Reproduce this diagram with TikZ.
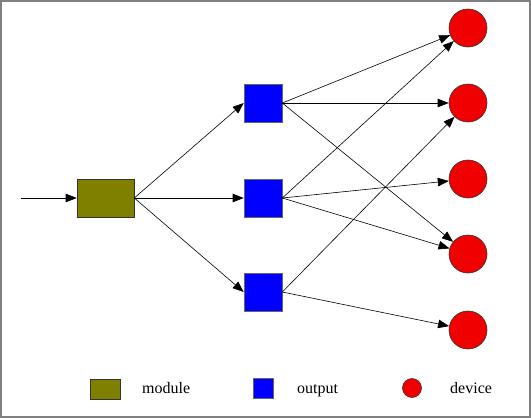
\documentclass[tikz,border=0pt]{standalone}
\usepackage{fontspec}
\setmainfont{Liberation Serif}
\usetikzlibrary{arrows.meta}
\definecolor{olivebox}{RGB}{128,128,0}
\definecolor{bluebox}{RGB}{0,0,255}
\definecolor{reddev}{RGB}{240,0,0}
\begin{document}
\begin{tikzpicture}[x=1pt,y=-1pt,
  modbox/.style={draw=black!80,fill=olivebox,minimum width=57pt,minimum height=38pt,inner sep=0pt,line width=0.6pt},
  outbox/.style={draw=black!60,fill=bluebox,minimum width=38pt,minimum height=38pt,inner sep=0pt,line width=0.6pt},
  devcirc/.style={draw=black!80,fill=reddev,circle,minimum size=38pt,inner sep=0pt,line width=0.6pt},
  conn/.style={draw=black,line width=0.6pt,-{Triangle[length=11pt,width=8.5pt]}},
  legtext/.style={font=\fontsize{16}{18}\selectfont,anchor=base west,inner sep=0pt}
]
\useasboundingbox (0,0) rectangle (531,418);
\draw[gray,line width=2pt] (1,1) rectangle (530,417);

\node[modbox] (m) at (105.5,198) {};
\node[outbox] (o1) at (263,103) {};
\node[outbox] (o2) at (263,198) {};
\node[outbox] (o3) at (263,292) {};
\node[devcirc] (d1) at (468,28) {};
\node[devcirc] (d2) at (468,103) {};
\node[devcirc] (d3) at (468,179) {};
\node[devcirc] (d4) at (468,254) {};
\node[devcirc] (d5) at (468,330) {};
\coordinate (in) at (21,198);

\draw[conn] (in) -- (m.west);
\draw[conn] (m.east) -- (o1.west);
\draw[conn] (m.east) -- (o2.west);
\draw[conn] (m.east) -- (o3.west);

\draw[conn] (o1.east) -- (d1);
\draw[conn] (o1.east) -- (d2);
\draw[conn] (o1.east) -- (d4);
\draw[conn] (o2.east) -- (d1);
\draw[conn] (o2.east) -- (d3);
\draw[conn] (o2.east) -- (d4);
\draw[conn] (o3.east) -- (d2);
\draw[conn] (o3.east) -- (d5);

\node[modbox,minimum width=30pt,minimum height=20pt] (lm) at (105,389) {};
\node[legtext] (lmt) at (142,393.5) {module};
\node[outbox,minimum width=20pt,minimum height=20pt] (lo) at (263,388.5) {};
\node[legtext] (lot) at (297,393.5) {output};
\node[devcirc,minimum size=19pt] (ld) at (412,388) {};
\node[legtext] (ldt) at (450,393.5) {device};
\end{tikzpicture}
\end{document}
